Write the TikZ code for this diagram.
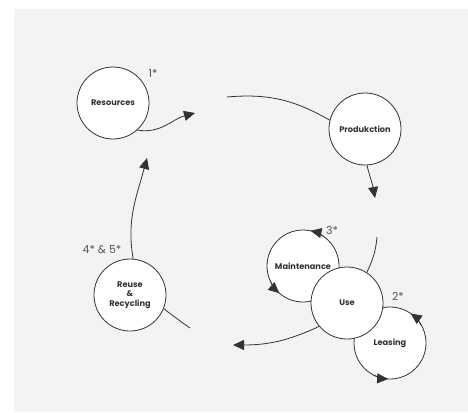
\documentclass[tikz,border=0pt]{standalone}
\usepackage{fontspec}
\setmainfont{Poppins}
\usetikzlibrary{arrows.meta}
\definecolor{panel}{HTML}{F3F3F3}
\definecolor{ink}{HTML}{333333}
\definecolor{numgray}{HTML}{555555}
\tikzset{
  stage/.style={circle, draw=ink, line width=0.8pt, fill=white, minimum size=72pt,
    inner sep=0pt, align=center, font=\fontsize{8.2}{9.5}\selectfont\bfseries, text=black!80},
  flow/.style={draw=ink, line width=0.8pt},
  flowarr/.style={flow, -{Triangle[length=11pt, width=10pt]}},
  note/.style={font=\fontsize{11}{12}\selectfont, text=numgray}
}
\begin{document}
\begin{tikzpicture}[x=1pt, y=-1pt]
  \useasboundingbox (0,0) rectangle (468,412);
  \fill[white] (0,0) rectangle (468,412);
  \fill[panel] (14,9) rectangle (468,412);

  % side loops first, so the Use circle covers their inner parts
  \node[stage] (mnt) at (303,266) {Maintenance};
  \node[stage] (lea) at (390,343) {Leasing};
  \node[stage] (use) at (347,303) {Use};

  \node[stage] (res) at (113,103) {Resources};
  \node[stage] (prod) at (365,129) {Produkction};
  \node[stage] (reu) at (130,295) {Reuse\\\&\\Recycling};

  % loose ends of the cycle
  \coordinate (t1) at (195,113);
  \coordinate (s2) at (227,97);
  \coordinate (t3) at (375,198);
  \coordinate (s4) at (377,237);
  \coordinate (t5) at (233,345);
  \coordinate (e6) at (190,328);
  \coordinate (t7) at (147,158);

  \draw[flowarr] (res.-48) to[out=-10, in=195] (t1);
  \draw[flow] (s2) to[out=5, in=150] (prod.166);
  \draw[flowarr] (prod.-87) to[out=-75, in=100] (t3);
  \draw[flow] (s4) to[out=-95, in=65] (use.57);
  \draw[flowarr] (use.220) to[out=205, in=0] (t5);
  \draw[flow] (reu.-22) to[out=-38, in=145] (e6);
  \draw[flowarr] (reu.85) to[out=100, in=255] (t7);

  % counter-clockwise arrow heads on the side loops (y axis points down)
  \draw[flowarr] ([shift={(-55:36)}]mnt.center) arc[start angle=-55, end angle=-78, radius=36];
  \draw[flowarr] ([shift={(-205:36)}]mnt.center) arc[start angle=-205, end angle=-229, radius=36];
  \draw[flowarr] ([shift={(-30:36)}]lea.center) arc[start angle=-30, end angle=-55, radius=36];
  \draw[flowarr] ([shift={(-243:36)}]lea.center) arc[start angle=-243, end angle=-267, radius=36];

  % step numbers
  \node[note] (n1) at (153,73) {1*};
  \node[note] (n3) at (332,230) {3*};
  \node[note] (n2) at (398,296) {2*};
  \node[note] (n45) at (102,250) {4* \& 5*};
\end{tikzpicture}
\end{document}
